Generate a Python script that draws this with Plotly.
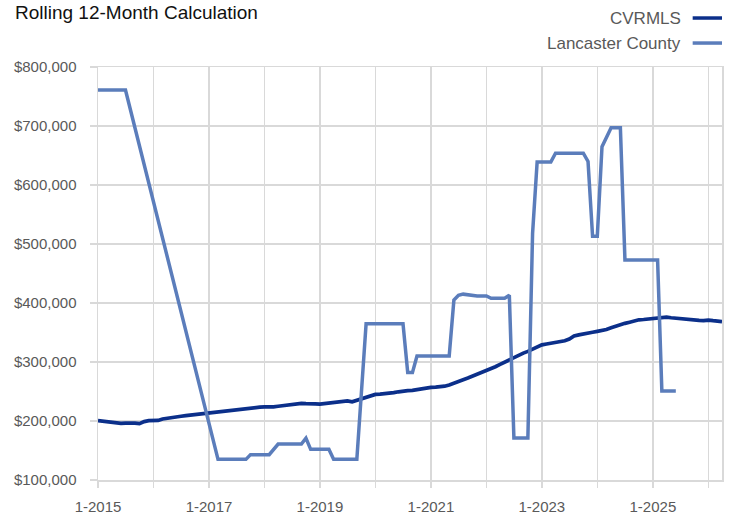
import pandas as pd
import plotly.graph_objects as go

# ---------------- data ----------------
months = pd.date_range("2015-01-01", "2026-04-01", freq="MS")

cvrmls = [
    # 2015
    200.5, 199.5, 199, 198.5, 196.5, 196, 196.5, 197, 196.5, 195.5, 199, 200.5,
    # 2016
    200.5, 201, 203.5, 205, 206, 207, 208, 209, 210, 210.5, 211.5, 212.5,
    # 2017
    214, 215, 215.5, 216.5, 217.5, 218.5, 219.5, 220.5, 221, 221.5, 222.5, 223.5,
    # 2018
    224, 223.5, 224, 225, 226, 227, 228.5, 229, 230, 229.5, 230, 229,
    # 2019
    228.5, 229.5, 230.5, 231, 232, 233, 234, 232.5, 235, 237, 239, 242,
    # 2020
    245, 245.5, 246, 247, 248, 249.5, 251, 251.5, 252, 253.5, 255, 256,
    # 2021
    257, 257.5, 258, 259, 261, 263.5, 267, 270, 273, 276, 279, 282,
    # 2022
    285, 288, 292, 296, 300, 304, 308, 311, 315, 318, 322, 326,
    # 2023
    329, 330.5, 331.5, 332.5, 333.5, 336, 339, 344, 346, 348, 349, 350.5,
    # 2024
    352, 353, 355, 358, 361, 363, 365.5, 367.5, 370, 371.5, 372, 373,
    # 2025
    373.5, 374, 376.5, 376, 375, 374, 373, 372, 371, 371, 370.5, 370,
    # 2026
    371, 370, 369, 368.5,
]

N = None
lancaster = [
    # 2015
    761, 761, 761, 761, 761, 761, 761, N, N, N, N, N,
    # 2016
    N, N, N, N, N, N, N, N, N, N, N, N,
    # 2017
    N, N, 135, 135, 135, 135, 135, 135, 135, 143, 143, 143,
    # 2018
    143, 143, N, 161, 161, 161, 161, 161, 161, 171, 152, 152,
    # 2019
    152, 152, 152, 135, 135, 135, 135, 135, 135, N, 365, 365,
    # 2020
    365, 365, 365, 365, 365, 365, 365, 282, 282, 310, 310, 310,
    # 2021
    310, 310, 310, 310, 310, 405, 413, 415, 414, 412, 412, 412,
    # 2022
    412, 408, 408, 408, 408, 413, 171, 171, 171, 171, 518, 639,
    # 2023
    639, 639, 639, 654, 654, 654, 654, 654, 654, 654, 640, 513,
    # 2024
    513, 665, N, 697, 697, 697, 473, 473, 473, 473, 473, 473,
    # 2025
    473, 473, 251, 251, 251, 251,
]
lancaster = lancaster + [None] * (len(months) - len(lancaster))

year_ticks = pd.date_range("2015-01-01", "2026-01-01", freq="YS")
year_labels = [f"1-{d.year}" if d.year % 2 == 1 else "" for d in year_ticks]
y_ticks = [100000, 200000, 300000, 400000, 500000, 600000, 700000, 800000]

series_names = ["CVRMLS", "Lancaster County"]
series_colors = ["#0b2f8a", "#5b7dbb"]

# ---------------- figure ----------------
fig = go.Figure()
fig.add_trace(go.Scatter(
    x=months, y=[v * 1000 for v in cvrmls], mode="lines",
    name=series_names[0], line=dict(color=series_colors[0], width=3.7),
))
fig.add_trace(go.Scatter(
    x=months, y=[v * 1000 if v is not None else None for v in lancaster],
    mode="lines", connectgaps=True,
    name=series_names[1], line=dict(color=series_colors[1], width=3.5),
))

grid = "#d9d9d9"
tick_font = dict(family="Liberation Sans, Arial, sans-serif", size=15, color="#595959")

fig.update_layout(
    width=733, height=515,
    margin=dict(l=98, r=11, t=67, b=35, autoexpand=False),
    paper_bgcolor="white", plot_bgcolor="white",
    showlegend=False,
    hovermode=False,
    xaxis=dict(
        range=[months[0], months[-1]],
        tickvals=year_ticks, ticktext=year_labels,
        showgrid=True, gridcolor=grid, gridwidth=1.5,
        ticks="outside", ticklen=6, tickcolor=grid, tickwidth=1.5,
        showline=True, linecolor=grid, linewidth=1.5, mirror=True,
        tickfont=tick_font, zeroline=False, ticklabelstandoff=6,
    ),
    yaxis=dict(
        range=[100000, 800000],
        tickvals=y_ticks, ticktext=[f"${v:,.0f}" for v in y_ticks],
        showgrid=True, gridcolor=grid, gridwidth=1.5,
        ticks="outside", ticklen=7, tickcolor=grid, tickwidth=1.5,
        showline=True, linecolor=grid, linewidth=1.5, mirror=True,
        tickfont=tick_font, zeroline=False, ticklabelstandoff=10,
    ),
)

# title
fig.add_annotation(
    text="Rolling 12-Month Calculation", xref="paper", yref="paper",
    x=-0.137, y=1.133, xanchor="left", yanchor="middle", showarrow=False,
    font=dict(family="Liberation Sans, Arial, sans-serif", size=19, color="#111111"),
)

# custom legend (text left of line key)
legend_y = [1.1186, 1.058]
for name, color, ly in zip(series_names, series_colors, legend_y):
    fig.add_annotation(
        text=name, xref="paper", yref="paper", x=0.9375, y=ly,
        xanchor="right", yanchor="middle", showarrow=False,
        font=dict(family="Liberation Sans, Arial, sans-serif", size=17, color="#595959"),
    )
    fig.add_shape(
        type="line", xref="paper", yref="paper",
        x0=0.953, x1=1.0, y0=ly, y1=ly,
        line=dict(color=color, width=3.5),
    )

# remove the default 8px page margin so the figure fills the window exactly
fig.write_html(
    "out.html",
    config={"displayModeBar": False, "staticPlot": True},
    post_script="document.body.style.margin='0';",
)
